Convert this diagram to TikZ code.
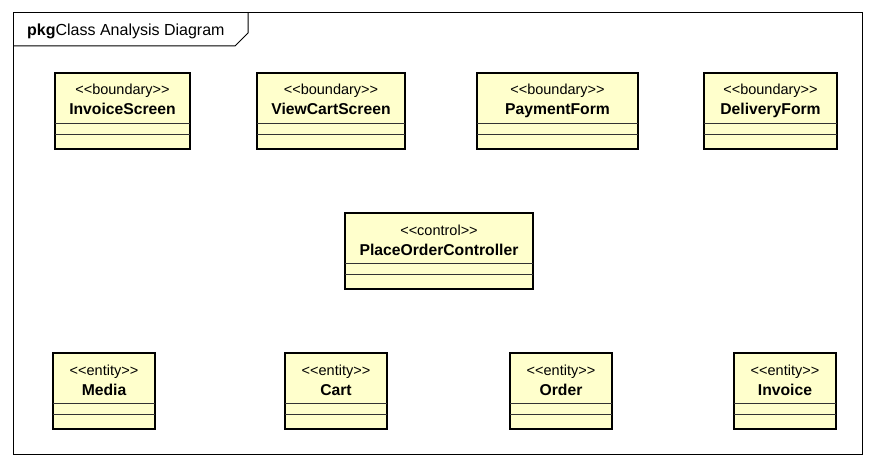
\documentclass[tikz,border=0pt]{standalone}
\usepackage{fontspec}
\newfontfamily\umlfont{Liberation Sans}
\definecolor{classfill}{RGB}{255,255,204}

\begin{document}
\begin{tikzpicture}[x=1pt, y=-1pt]
    % Style definitions
    \tikzset{classbox/.style={draw, line width=2.8pt, fill=classfill, rectangle, anchor=north west, inner sep=0pt, outer sep=0pt, minimum height=76pt}}
    \tikzset{stereo/.style={font=\umlfont\fontsize{14.5}{17}\selectfont, anchor=base, inner sep=0pt}}
    \tikzset{cname/.style={font=\umlfont\bfseries\fontsize{15.7}{18}\selectfont, anchor=base, inner sep=0pt}}
    \tikzset{compart/.style={line width=0.9pt, draw=black!80}}
    \tikzset{frame/.style={line width=1pt}}

    \useasboundingbox (0,0) rectangle (876,468);

    % Package frame with its name tab
    \draw [frame] (13,13) rectangle (862,454);
    \draw [frame] (13,46) -- (235,46) -- (248,33) -- (248,13);
    \node [anchor=base west, inner sep=0pt, font=\umlfont\fontsize{16}{18}\selectfont] (title) at (27,36) {\textbf{pkg}Class Analysis Diagram};

    % Boundary classes
    \node [classbox, minimum width=135pt] (invoicescreen) at (55,73) {};
    \node [stereo] (invoicescreen-st) at ([yshift=-22pt]invoicescreen.north) {<<boundary>>};
    \node [cname] (invoicescreen-nm) at ([yshift=-42pt]invoicescreen.north) {InvoiceScreen};
    \draw [compart] ([yshift=-50pt]invoicescreen.north west) -- ([yshift=-50pt]invoicescreen.north east);
    \draw [compart] ([yshift=-61pt]invoicescreen.north west) -- ([yshift=-61pt]invoicescreen.north east);

    \node [classbox, minimum width=148pt] (viewcartscreen) at (257,73) {};
    \node [stereo] (viewcartscreen-st) at ([yshift=-22pt]viewcartscreen.north) {<<boundary>>};
    \node [cname] (viewcartscreen-nm) at ([yshift=-42pt]viewcartscreen.north) {ViewCartScreen};
    \draw [compart] ([yshift=-50pt]viewcartscreen.north west) -- ([yshift=-50pt]viewcartscreen.north east);
    \draw [compart] ([yshift=-61pt]viewcartscreen.north west) -- ([yshift=-61pt]viewcartscreen.north east);

    \node [classbox, minimum width=161pt] (paymentform) at (477,73) {};
    \node [stereo] (paymentform-st) at ([yshift=-22pt]paymentform.north) {<<boundary>>};
    \node [cname] (paymentform-nm) at ([yshift=-42pt]paymentform.north) {PaymentForm};
    \draw [compart] ([yshift=-50pt]paymentform.north west) -- ([yshift=-50pt]paymentform.north east);
    \draw [compart] ([yshift=-61pt]paymentform.north west) -- ([yshift=-61pt]paymentform.north east);

    \node [classbox, minimum width=133pt] (deliveryform) at (704,73) {};
    \node [stereo] (deliveryform-st) at ([yshift=-22pt]deliveryform.north) {<<boundary>>};
    \node [cname] (deliveryform-nm) at ([yshift=-42pt]deliveryform.north) {DeliveryForm};
    \draw [compart] ([yshift=-50pt]deliveryform.north west) -- ([yshift=-50pt]deliveryform.north east);
    \draw [compart] ([yshift=-61pt]deliveryform.north west) -- ([yshift=-61pt]deliveryform.north east);

    % Control class
    \node [classbox, minimum width=188pt] (placeorderctrl) at (345,213) {};
    \node [stereo] (placeorderctrl-st) at ([yshift=-22pt]placeorderctrl.north) {<<control>>};
    \node [cname] (placeorderctrl-nm) at ([yshift=-42pt]placeorderctrl.north) {PlaceOrderController};
    \draw [compart] ([yshift=-50pt]placeorderctrl.north west) -- ([yshift=-50pt]placeorderctrl.north east);
    \draw [compart] ([yshift=-61pt]placeorderctrl.north west) -- ([yshift=-61pt]placeorderctrl.north east);

    % Entity classes
    \node [classbox, minimum width=102pt] (media) at (53,353) {};
    \node [stereo] (media-st) at ([yshift=-22pt]media.north) {<<entity>>};
    \node [cname] (media-nm) at ([yshift=-42pt]media.north) {Media};
    \draw [compart] ([yshift=-50pt]media.north west) -- ([yshift=-50pt]media.north east);
    \draw [compart] ([yshift=-61pt]media.north west) -- ([yshift=-61pt]media.north east);

    \node [classbox, minimum width=102pt] (cart) at (285,353) {};
    \node [stereo] (cart-st) at ([yshift=-22pt]cart.north) {<<entity>>};
    \node [cname] (cart-nm) at ([yshift=-42pt]cart.north) {Cart};
    \draw [compart] ([yshift=-50pt]cart.north west) -- ([yshift=-50pt]cart.north east);
    \draw [compart] ([yshift=-61pt]cart.north west) -- ([yshift=-61pt]cart.north east);

    \node [classbox, minimum width=102pt] (order) at (510,353) {};
    \node [stereo] (order-st) at ([yshift=-22pt]order.north) {<<entity>>};
    \node [cname] (order-nm) at ([yshift=-42pt]order.north) {Order};
    \draw [compart] ([yshift=-50pt]order.north west) -- ([yshift=-50pt]order.north east);
    \draw [compart] ([yshift=-61pt]order.north west) -- ([yshift=-61pt]order.north east);

    \node [classbox, minimum width=102pt] (invoice) at (734,353) {};
    \node [stereo] (invoice-st) at ([yshift=-22pt]invoice.north) {<<entity>>};
    \node [cname] (invoice-nm) at ([yshift=-42pt]invoice.north) {Invoice};
    \draw [compart] ([yshift=-50pt]invoice.north west) -- ([yshift=-50pt]invoice.north east);
    \draw [compart] ([yshift=-61pt]invoice.north west) -- ([yshift=-61pt]invoice.north east);
\end{tikzpicture}
\end{document}
